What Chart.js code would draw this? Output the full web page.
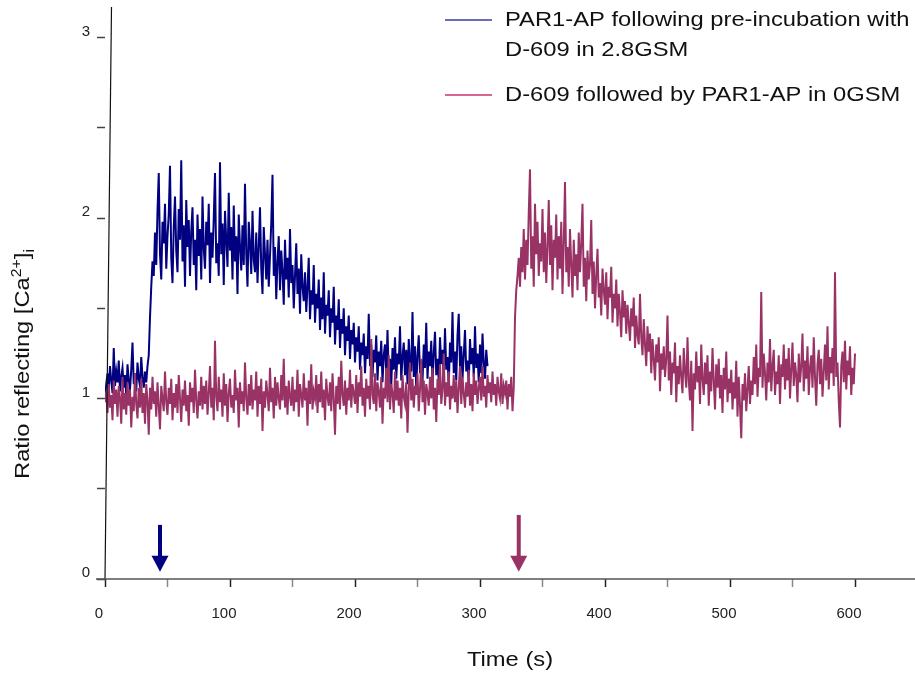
<!DOCTYPE html>
<html>
<head>
<meta charset="utf-8">
<script src="https://cdn.jsdelivr.net/npm/chart.js@4.4.0/dist/chart.umd.min.js"></script>
<style>
  html, body { margin: 0; padding: 0; background: #fff; }
  #wrap { width: 915px; height: 674px; }
</style>
</head>
<body>
<div id="wrap"><canvas id="calciumChart" width="915" height="674"></canvas></div>
<script>
// sampling interval of both traces, in seconds
const SAMPLE_STEP = 1;

const legendLines = [
  ['PAR1-AP following pre-incubation with', 'D-609 in 2.8GSM'],
  ['D-609 followed by PAR1-AP in 0GSM']
];

// PAR1-AP after D-609 pre-incubation, 2.8GSM (t = 0..306 s)
const ratioPreIncubated = [
  1.00, 1.08, 1.14, 1.05, 1.18, 1.10, 1.03, 1.28, 1.07, 1.15,
  1.09, 1.21, 1.04, 1.12, 1.17, 1.06, 1.13, 1.02, 1.19, 1.10,
  1.05, 1.16, 1.31, 1.08, 1.14, 1.04, 1.20, 1.11, 1.07, 1.23,
  1.12, 1.06, 1.15, 1.09, 1.18, 1.24, 1.45, 1.62, 1.76, 1.68,
  1.92, 1.74, 2.04, 2.25, 1.80, 1.66, 1.98, 1.86, 2.08, 1.72,
  1.90, 2.02, 2.29, 1.78, 1.64, 1.95, 2.12, 1.82, 1.70, 2.05,
  1.88, 2.32, 1.76, 1.96, 1.62, 2.10, 1.84, 1.99, 1.68, 1.93,
  2.06, 1.74, 1.88, 1.60, 2.02, 1.79, 1.94, 1.66, 2.12, 1.83,
  1.72, 1.98, 1.85, 2.08, 1.64, 1.92, 1.78, 2.00, 2.25, 1.75,
  1.86, 1.68, 2.31, 1.80, 1.97, 1.63, 2.04, 1.88, 1.73, 2.14,
  1.82, 1.95, 1.66, 2.07, 1.76, 1.90, 1.58, 2.02, 1.84, 1.71,
  1.96, 1.74, 2.19, 1.80, 1.62, 1.98, 1.86, 1.69, 2.04, 1.77,
  1.70, 1.92, 1.64, 1.84, 2.06, 1.72, 1.58, 1.95, 1.80, 1.66,
  1.88, 1.62, 1.79, 1.97, 2.24, 1.68, 1.84, 1.55, 1.76, 1.90,
  1.60, 1.82, 1.70, 1.52, 1.88, 1.66, 1.78, 1.56, 1.94, 1.64,
  1.74, 1.50, 1.68, 1.86, 1.58, 1.72, 1.47, 1.80, 1.62, 1.54,
  1.70, 1.48, 1.62, 1.78, 1.44, 1.60, 1.52, 1.74, 1.42, 1.58,
  1.50, 1.66, 1.38, 1.56, 1.44, 1.70, 1.36, 1.52, 1.46, 1.60,
  1.34, 1.50, 1.42, 1.62, 1.30, 1.46, 1.38, 1.55, 1.28, 1.44,
  1.36, 1.50, 1.24, 1.40, 1.32, 1.46, 1.22, 1.38, 1.30, 1.42,
  1.20, 1.34, 1.26, 1.40, 1.16, 1.31, 1.24, 1.36, 1.14, 1.29,
  1.22, 1.47, 1.18, 1.30, 1.12, 1.27, 1.20, 1.35, 1.10, 1.26,
  1.18, 1.32, 1.09, 1.24, 1.30, 1.14, 1.38, 1.12, 1.22, 1.07,
  1.28, 1.16, 1.34, 1.11, 1.25, 1.19, 1.40, 1.10, 1.23, 1.31,
  1.13, 1.27, 1.08, 1.33, 1.20, 1.15, 1.48, 1.12, 1.29, 1.06,
  1.24, 1.35, 1.14, 1.21, 1.09, 1.30, 1.17, 1.42, 1.11, 1.26,
  1.18, 1.32, 1.08, 1.25, 1.37, 1.13, 1.22, 1.10, 1.34, 1.19,
  1.27, 1.12, 1.39, 1.16, 1.23, 1.07, 1.31, 1.20, 1.48, 1.14,
  1.26, 1.10, 1.35, 1.47, 1.18, 1.29, 1.11, 1.24, 1.38, 1.15,
  1.21, 1.08, 1.33, 1.19, 1.28, 1.12, 1.40, 1.17, 1.25, 1.09,
  1.30, 1.14, 1.36, 1.20, 1.11, 1.27, 1.18
];

// D-609 then PAR1-AP, 0GSM (t = 0..600 s)
const ratioZeroGsm = [
  0.98, 1.04, 0.92, 1.08, 0.95, 1.02, 0.88, 1.10, 0.97, 1.05,
  0.90, 1.07, 1.00, 0.86, 1.12, 0.94, 1.03, 0.91, 1.09, 0.96,
  1.05, 0.84, 1.01, 0.93, 1.14, 0.97, 0.89, 1.06, 0.95, 1.11,
  0.92, 1.03, 0.86, 1.08, 0.99, 0.80, 1.06, 0.94, 1.12, 0.97,
  1.04, 0.90, 1.09, 0.96, 0.83, 1.07, 1.00, 0.93, 1.15, 0.98,
  0.91, 1.06, 0.97, 1.11, 0.88, 1.03, 0.95, 1.08, 0.92, 1.13,
  1.00, 0.87, 1.05, 0.96, 1.10, 0.93, 1.02, 0.85, 1.09, 0.98,
  1.06, 0.92, 1.16, 0.99, 0.89, 1.04, 0.96, 1.12, 0.94, 1.07,
  0.97, 1.10, 0.91, 1.03, 1.18, 0.95, 1.06, 0.88, 1.32, 1.01,
  0.93, 1.12, 0.98, 1.05, 0.90, 1.14, 0.96, 1.08, 0.87, 1.03,
  1.11, 0.95, 1.02, 0.92, 1.16, 0.99, 1.06, 0.84, 1.09, 0.97,
  1.04, 0.93, 1.20, 1.00, 0.91, 1.08, 0.96, 1.13, 0.94, 1.05,
  0.99, 1.15, 0.90, 1.07, 0.97, 1.11, 0.82, 1.04, 0.95, 1.10,
  1.02, 0.93, 1.17, 0.98, 1.06, 0.89, 1.12, 0.96, 1.09, 1.00,
  0.94, 1.13, 0.99, 1.22, 0.95, 1.07, 0.91, 1.10, 1.01, 0.96,
  1.12, 0.93, 1.05, 0.98, 1.16, 0.90, 1.08, 1.02, 0.95, 1.14,
  0.99, 1.06, 0.85, 1.10, 0.97, 1.19, 0.94, 1.04, 1.00, 1.13,
  0.92, 1.08, 0.98, 1.15, 0.95, 1.05, 0.88, 1.11, 1.01, 0.96,
  1.09, 0.93, 1.14, 1.00, 0.80, 1.07, 0.97, 1.12, 0.94, 1.21,
  1.02, 0.96, 1.10, 0.91, 1.06, 0.99, 1.16, 0.95, 1.08, 1.03,
  0.97, 1.13, 0.92, 1.09, 1.01, 1.18, 0.96, 1.06, 0.90, 1.11,
  1.00, 1.07, 0.94, 1.33, 1.02, 0.97, 1.14, 0.93, 1.09, 1.04,
  0.95, 1.12, 0.86, 1.06, 1.00, 1.17, 0.98, 1.24, 0.94, 1.08,
  1.03, 0.92, 1.15, 0.99, 1.10, 0.96, 1.06, 0.89, 1.13, 1.01,
  0.97, 1.09, 0.81, 1.04, 1.20, 0.99, 1.11, 0.95, 1.07, 1.02,
  1.14, 0.93, 1.05, 1.22, 0.98, 1.10, 0.91, 1.08, 1.03, 0.96,
  1.12, 1.00, 1.17, 0.94, 1.06, 0.87, 1.11, 1.02, 1.19, 0.97,
  1.05, 1.25, 0.96, 1.09, 1.01, 1.15, 0.94, 1.07, 1.00, 1.13,
  0.98, 1.10, 0.92, 1.06, 1.18, 0.97, 1.12, 1.03, 0.95, 1.09,
  1.01, 1.16, 0.96, 1.08, 0.93, 1.14, 1.02, 1.10, 0.97, 1.06,
  1.12, 0.99, 1.18, 1.01, 1.07, 0.95, 1.13, 1.03, 1.09, 0.98,
  1.15, 1.02, 1.08, 0.96, 1.12, 1.04, 1.00, 1.14, 0.97, 1.07,
  1.03, 1.10, 0.94, 1.08, 1.01, 1.12, 0.93, 1.06, 1.45, 1.60,
  1.68, 1.78, 1.62, 1.84, 1.70, 1.94, 1.66, 1.88, 1.74, 2.03,
  2.27, 1.72, 1.90, 1.62, 2.08, 1.80, 1.98, 1.68, 1.86, 1.76,
  2.05, 1.70, 1.92, 1.64, 1.84, 2.10, 1.74, 1.96, 1.60, 1.88,
  1.78, 2.02, 1.66, 1.90, 1.72, 1.98, 1.58, 1.86, 2.20, 1.70,
  1.84, 1.62, 1.94, 1.74, 1.56, 1.88, 1.68, 1.80, 1.60, 1.92,
  1.70, 1.86, 2.08, 1.62, 1.78, 1.54, 1.82, 1.66, 1.74, 1.99,
  1.58, 1.76, 1.50, 1.68, 1.83, 1.56, 1.64, 1.46, 1.72, 1.60,
  1.52, 1.70, 1.44, 1.62, 1.56, 1.73, 1.42, 1.58, 1.50, 1.66,
  1.40, 1.58, 1.48, 1.34, 1.60, 1.45, 1.54, 1.36, 1.52, 1.42,
  1.32, 1.50, 1.40, 1.56, 1.28, 1.46, 1.35, 1.30, 1.58, 1.34,
  1.24, 1.44, 1.30, 1.18, 1.40, 1.26, 1.36, 1.14, 1.33, 1.22,
  1.10, 1.30, 1.20, 1.34, 1.04, 1.25, 1.16, 1.29, 1.12, 1.22,
  1.46, 1.10, 1.26, 1.02, 1.20, 1.14, 1.31, 0.98, 1.18, 1.08,
  1.24, 1.12, 1.03, 1.28, 1.15, 1.06, 1.34, 1.10, 0.99, 1.21,
  0.82, 1.14, 1.05, 1.26, 1.09, 1.18, 0.97, 1.30, 1.11, 1.02,
  1.20, 1.08, 1.24, 0.96, 1.15, 1.04, 1.28, 1.10, 0.94, 1.19,
  1.06, 1.22, 1.00, 1.13, 0.92, 1.17, 1.05, 1.26, 0.98, 1.11,
  1.03, 1.16, 0.94, 1.09, 1.00, 1.21, 0.90, 1.12, 0.96, 0.78,
  1.08, 0.99, 1.14, 0.93, 1.05, 1.18, 0.97, 1.10, 1.02, 1.23,
  1.08, 1.30, 1.01, 1.17, 1.12, 1.59, 1.06, 1.25, 1.14, 0.99,
  1.20, 1.09, 1.33, 1.04, 1.18, 1.27, 1.02, 1.15, 1.08, 1.24,
  0.97, 1.19, 1.12, 1.30, 1.05, 1.22, 1.10, 1.28, 1.00, 1.16,
  1.31, 1.07, 1.20, 1.13, 0.98, 1.25, 1.09, 1.18, 1.36, 1.04,
  1.21, 1.11, 1.29, 1.02, 1.17, 1.24, 1.06, 1.34, 1.12, 0.96,
  1.19, 1.27, 1.08, 1.22, 1.01, 1.15, 1.30, 1.10, 1.40, 1.05,
  1.23, 1.14, 1.28, 1.07, 1.70, 1.12, 1.20, 0.99, 0.84, 1.18,
  1.26, 1.09, 1.32, 1.05, 1.21, 1.13, 1.29, 1.02, 1.17, 1.08,
  1.25
];

const xTicks = [0, 50, 100, 150, 200, 250, 300, 350, 400, 450, 500, 550, 600];
const yTicks = [0, 0.5, 1, 1.5, 2, 2.5, 3];

// agonist additions (s) and the ratio level where each arrow starts
const arrowTimes = [44, 331];
const arrowTops = [0.30, 0.355];
const arrowTip = 0.04;

const blue = '#000080';
const plum = '#993366';
const FONT = '"Liberation Sans", Arial, sans-serif';
const TITLE_STRETCH = 1.13; // titles in the figure are set a bit wide

function toPoints(values) {
  return values.map((v, i) => ({ x: i * SAMPLE_STEP, y: v }));
}

function wideText(ctx, txt, x, y, align) {
  const w = ctx.measureText(txt).width * TITLE_STRETCH;
  const left = align === 'center' ? x - w / 2 : x;
  ctx.save();
  ctx.translate(left, y);
  ctx.scale(TITLE_STRETCH, 1);
  ctx.textAlign = 'left';
  ctx.fillText(txt, 0, 0);
  ctx.restore();
  return w;
}

const decorations = {
  id: 'decorations',
  afterDatasetsDraw(chart) {
    const { ctx, chartArea, scales: { x, y } } = chart;
    ctx.save();
    // y axis is a little slanted in the original figure
    ctx.strokeStyle = '#111';
    ctx.lineWidth = 1.2;
    ctx.beginPath();
    ctx.moveTo(chartArea.left, chartArea.bottom);
    ctx.lineTo(chartArea.left + 6.5, chartArea.top);
    ctx.stroke();

    ctx.strokeStyle = '#555';
    ctx.lineWidth = 1.5;
    ctx.beginPath();
    ctx.moveTo(chartArea.left - 9, chartArea.bottom);
    ctx.lineTo(chartArea.right, chartArea.bottom);
    ctx.stroke();

    // addition arrows
    [blue, plum].forEach((col, i) => {
      const ax = x.getPixelForValue(arrowTimes[i]);
      const top = y.getPixelForValue(arrowTops[i]);
      const tip = y.getPixelForValue(arrowTip);
      const headLen = 16;
      ctx.fillStyle = col;
      ctx.fillRect(ax - 2, top, 4, tip - headLen - top + 1);
      ctx.beginPath();
      ctx.moveTo(ax - 8.5, tip - headLen);
      ctx.lineTo(ax + 8.5, tip - headLen);
      ctx.lineTo(ax, tip);
      ctx.closePath();
      ctx.fill();
    });
    ctx.restore();
  },
  afterDraw(chart) {
    const { ctx, chartArea } = chart;
    ctx.save();
    ctx.fillStyle = '#111';
    ctx.font = '21px ' + FONT;
    ctx.textBaseline = 'middle';

    // x title
    wideText(ctx, 'Time (s)', (chartArea.left + chartArea.right) / 2, 660, 'center');

    // y title with super/subscript
    ctx.save();
    ctx.translate(29, 479);
    ctx.rotate(-Math.PI / 2);
    ctx.textBaseline = 'alphabetic';
    let pos = 0;
    ctx.font = '21px ' + FONT;
    pos += wideText(ctx, 'Ratio reflecting [Ca', pos, 0);
    ctx.font = '14px ' + FONT;
    pos += wideText(ctx, '2+', pos, -8);
    ctx.font = '21px ' + FONT;
    pos += wideText(ctx, ']', pos, 0);
    ctx.font = '14px ' + FONT;
    wideText(ctx, 'i', pos, 5);
    ctx.restore();

    // legend
    const swatch = ['#3a3aa0', '#c8336f'];
    const rows = [[20, 50], [95]];
    ctx.font = '21px ' + FONT;
    ctx.textBaseline = 'middle';
    legendLines.forEach((lines, i) => {
      ctx.strokeStyle = swatch[i];
      ctx.lineWidth = 1.5;
      ctx.beginPath();
      ctx.moveTo(445, rows[i][0]);
      ctx.lineTo(492, rows[i][0]);
      ctx.stroke();
      ctx.fillStyle = '#111';
      lines.forEach((txt, j) => wideText(ctx, txt, 505, rows[i][j], 'left'));
    });
    ctx.restore();
  }
};

new Chart(document.getElementById('calciumChart'), {
  type: 'line',
  data: {
    datasets: [
      {
        label: legendLines[0].join(' '),
        data: toPoints(ratioPreIncubated),
        borderColor: blue,
        borderWidth: 2,
        pointRadius: 0,
        tension: 0,
        order: 2
      },
      {
        label: legendLines[1].join(' '),
        data: toPoints(ratioZeroGsm),
        borderColor: plum,
        borderWidth: 2,
        pointRadius: 0,
        tension: 0,
        order: 1
      }
    ]
  },
  options: {
    responsive: false,
    animation: false,
    layout: { padding: { top: 7, right: 0, left: 0, bottom: 0 } },
    plugins: {
      legend: { display: false },
      tooltip: { enabled: false }
    },
    scales: {
      x: {
        type: 'linear',
        min: 0,
        max: 648,
        afterBuildTicks: (scale) => { scale.ticks = xTicks.map(v => ({ value: v })); },
        afterFit: (scale) => {
          scale.height = 95;
          scale.paddingLeft = 0;
          scale.paddingRight = 0;
        },
        border: { display: false },
        grid: {
          drawOnChartArea: false,
          drawTicks: true,
          tickLength: 8,
          tickColor: (c) => (c.tick && c.tick.value % 100 === 0 ? '#222' : '#888'),
          tickWidth: 1.5
        },
        ticks: {
          autoSkip: false,
          maxRotation: 0,
          padding: 18,
          labelOffset: -6,
          color: '#222',
          font: { family: FONT, size: 15 },
          callback: (v) => (v % 100 === 0 ? v : '')
        }
      },
      y: {
        min: 0,
        max: 3.17,
        afterBuildTicks: (scale) => { scale.ticks = yTicks.map(v => ({ value: v })); },
        afterFit: (scale) => {
          scale.width = 105;
          scale.paddingTop = 0;
          scale.paddingBottom = 0;
        },
        border: { display: false },
        grid: {
          drawOnChartArea: false,
          drawTicks: true,
          tickLength: 8,
          tickColor: '#444',
          tickWidth: 1.5
        },
        ticks: {
          padding: 7,
          labelOffset: -6,
          color: '#222',
          font: { family: FONT, size: 15 },
          callback: (v) => (Number.isInteger(v) ? v : '')
        }
      }
    }
  },
  plugins: [decorations]
});
</script>
</body>
</html>
